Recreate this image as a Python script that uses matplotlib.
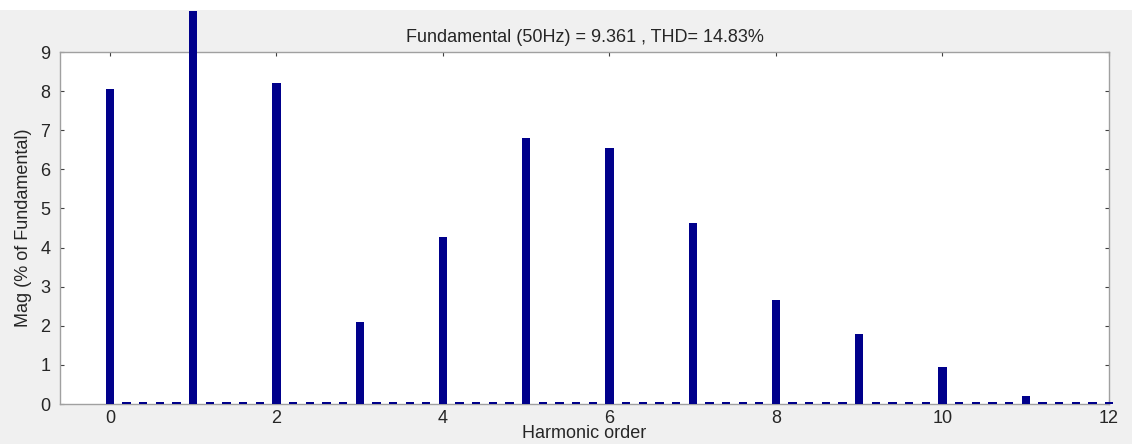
import matplotlib.pyplot as plt
import matplotlib.patches as mpatches
import numpy as np

plt.rcParams['font.family'] = ['Liberation Sans', 'DejaVu Sans']

# harmonic spectrum, bins every 0.2 harmonic order (10 Hz resolution)
harmonics = [0, 1, 2, 3, 4, 5, 6, 7, 8, 9, 10, 11, 12]
harm_mag = [8.05, 100.0, 8.2, 2.1, 4.27, 6.8, 6.55, 4.62, 2.65, 1.78, 0.95, 0.2, 0.04]

# interharmonic bins between order k and k+1 (four per interval)
inter_mag = [
    [0.05, 0.05, 0.05, 0.05],
    [0.05, 0.05, 0.05, 0.05],
    [0.05, 0.05, 0.05, 0.05],
    [0.05, 0.05, 0.05, 0.05],
    [0.05, 0.05, 0.05, 0.05],
    [0.05, 0.05, 0.05, 0.05],
    [0.05, 0.05, 0.05, 0.05],
    [0.05, 0.05, 0.05, 0.05],
    [0.05, 0.05, 0.05, 0.05],
    [0.05, 0.05, 0.05, 0.05],
    [0.05, 0.05, 0.05, 0.05],
    [0.05, 0.05, 0.05, 0.05],
]

fund_freq = 50
fund_mag = 9.361
thd = 14.83

orders = []
mags = []
for k, h in enumerate(harmonics):
    orders.append(h)
    mags.append(harm_mag[k])
    if k < len(inter_mag):
        for j, m in enumerate(inter_mag[k]):
            orders.append(h + 0.2 * (j + 1))
            mags.append(m)

fig = plt.figure(figsize=(11.32, 4.44), dpi=100, facecolor='#f0f0f0')
# white strip across the top edge
fig.patches.append(mpatches.Rectangle((0, 1 - 10 / 444), 1, 10 / 444, transform=fig.transFigure,
                                      facecolor='white', edgecolor='none', zorder=-1))
ax = fig.add_axes([60 / 1132, 1 - 404 / 444, (1109 - 60) / 1132, (404 - 52) / 444])
ax.set_facecolor('white')

bars = ax.bar(orders, mags, width=0.1, color='#00008b', edgecolor='none', zorder=3)
# the fundamental is far off-scale and runs out of the axes
for b in bars:
    b.set_clip_on(False)
    if b.get_height() > 9:
        b.set_height(9 + 41 / 39.2)

ax.set_xlim(-0.6, 12)
ax.set_ylim(0, 9)
ax.set_xticks(np.arange(0, 13, 2))
ax.set_yticks(np.arange(0, 10, 1))

for s in ax.spines.values():
    s.set_color('#a0a0a0')
    s.set_linewidth(1.0)

ax.tick_params(direction='in', length=3, width=0.8, color='#404040', labelsize=13,
               labelcolor='#262626', top=True, right=True, pad=4)
ax.tick_params(axis='y', pad=7)

ax.set_xlabel('Harmonic order', fontsize=13, color='#262626', labelpad=-1)
ax.set_ylabel('Mag (% of Fundamental)', fontsize=13, color='#262626', labelpad=6)
ax.set_title(f'Fundamental ({fund_freq}Hz) = {fund_mag} , THD= {thd:.2f}%', fontsize=13,
             color='#262626', pad=7)

fig.savefig('out.png', dpi=100, facecolor=fig.get_facecolor())
